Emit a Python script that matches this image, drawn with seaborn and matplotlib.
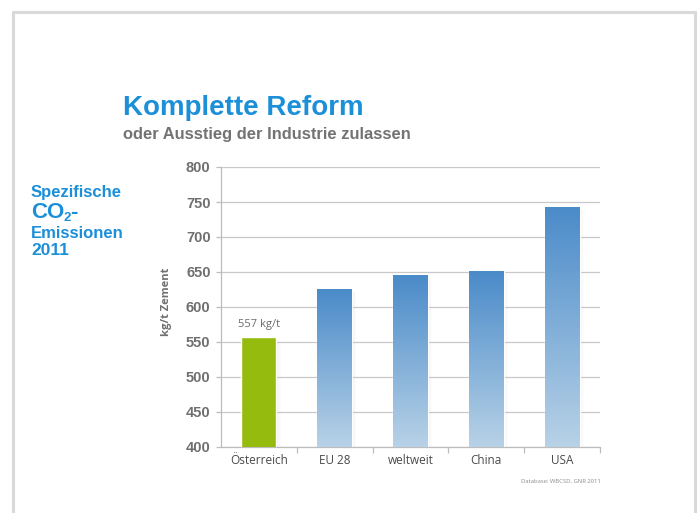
import matplotlib
matplotlib.use("Agg")
import matplotlib.pyplot as plt
import matplotlib.patches as mpatches
from matplotlib.colors import LinearSegmentedColormap
import numpy as np
import pandas as pd
import seaborn as sns

categories = ["Österreich", "EU 28", "weltweit", "China", "USA"]
values = [557, 625, 645, 651, 743]
yticks = [400, 450, 500, 550, 600, 650, 700, 750, 800]
bar_label = "557 kg/t"
title = "Komplette Reform"
subtitle = "oder Ausstieg der Industrie zulassen"
ylabel = "kg/t Zement"
source = "Database: WBCSD, GNR 2011"

sns.set_theme(style="white")
plt.rcParams['font.family'] = ['Liberation Sans', 'DejaVu Sans']

fig = plt.figure(figsize=(7.0, 5.13), dpi=100)
fig.patch.set_facecolor("white")

# slide frame
frame_color = "#d9d9d9"
fig.add_artist(plt.Line2D([12.5/700, 12.5/700], [0, 1 - 11.5/513], color=frame_color, lw=2.2, transform=fig.transFigure))
fig.add_artist(plt.Line2D([694.5/700, 694.5/700], [0, 1 - 11.5/513], color=frame_color, lw=2.2, transform=fig.transFigure))
fig.add_artist(plt.Line2D([12.5/700, 694.5/700], [1 - 11.5/513, 1 - 11.5/513], color=frame_color, lw=2.2, transform=fig.transFigure))

ax = fig.add_axes([221/700, 1 - 447/513, 379/700, 280/513])
df = pd.DataFrame({"land": categories, "wert": values})
green = "#96bb0f"
sns.barplot(data=df, x="land", y="wert", ax=ax, width=0.46,
            color="#5b97cf", saturation=1, zorder=3)

ax.set_yticks(yticks)
ax.yaxis.grid(True, color="#c9c9c9", lw=0.9, zorder=0)
ax.set_axisbelow(True)

cmap = LinearSegmentedColormap.from_list("blu", ["#b8d2e7", "#4a8bc9"])
grad = np.linspace(0, 1, 256).reshape(-1, 1)
for i, p in enumerate(ax.patches):
    x0, w = p.get_x(), p.get_width()
    y0 = 400
    top = values[i]
    # soft shadow at right
    for k, a in enumerate([0.12, 0.08, 0.05, 0.03, 0.015]):
        sh = mpatches.Rectangle((x0 + w + k * 0.011, y0), 0.011, top - y0 - 4,
                                facecolor="#7a7a7a", edgecolor="none", alpha=a, zorder=2)
        ax.add_patch(sh)
    if i == 0:
        p.set_facecolor(green)
    else:
        p.set_facecolor("none")
        im = ax.imshow(grad, extent=[x0, x0 + w, y0, top], origin="lower",
                       cmap=cmap, aspect="auto", zorder=3)
        im.set_clip_path(p)
ax.set_xlim(-0.5, 4.5)
ax.set_ylim(400, 800)

ax.annotate(bar_label, (0, values[0]), xytext=(0, 5), textcoords="offset points",
            ha="center", va="bottom", fontsize=8, color="#6a6a6a",
            family=["Open Sans", "DejaVu Sans"])

for s in ["top", "right"]:
    ax.spines[s].set_visible(False)
ax.spines["left"].set_color("#bdbdbd")
ax.spines["bottom"].set_color("#bdbdbd")
ax.spines["left"].set_linewidth(0.9)
ax.spines["bottom"].set_linewidth(0.9)

ax.tick_params(axis="y", which="major", length=3.5, width=0.9, color="#bdbdbd",
               labelsize=10.5, labelcolor="#6f6f6f", pad=4, left=True)
for t in ax.get_yticklabels():
    t.set_fontweight("bold")
ax.set_xticks(range(len(categories)))
ax.set_xticklabels(categories, fontsize=8.5, color="#4a4a4a", family=["Open Sans", "DejaVu Sans"])
ax.tick_params(axis="x", which="major", length=0, pad=5)
ax.set_xticks([0.5, 1.5, 2.5, 3.5, 4.5], minor=True)
ax.tick_params(axis="x", which="minor", length=4, width=0.9, color="#bdbdbd", bottom=True)
ax.set_xlabel("")
ax.set_ylabel(ylabel, fontsize=8, color="#6f6f6f", fontweight="bold",
              family=["Open Sans", "DejaVu Sans"])
ax.yaxis.set_label_coords(-0.129, 0.52)

# titles
fig.text(123/700, 1 - 108/513, title, fontsize=20, fontweight="bold", color="#1b8fd8",
         va="center", ha="left")
fig.text(123/700, 1 - 134/513, subtitle, fontsize=11.9, fontweight="bold", color="#737373",
         va="center", ha="left")

blue = "#1b8fd8"
fig.text(31/700, 1 - 192/513, "Spezifische", fontsize=12, fontweight="bold", color=blue, va="center")
fig.text(31/700, 1 - 218/513, "CO", fontsize=16, fontweight="bold", color=blue, va="baseline")
fig.text(63.5/700, 1 - 221/513, "2", fontsize=9.5, fontweight="bold", color=blue, va="baseline")
fig.text(70.5/700, 1 - 218/513, "-", fontsize=16, fontweight="bold", color=blue, va="baseline")
fig.text(31/700, 1 - 233/513, "Emissionen", fontsize=12, fontweight="bold", color=blue, va="center")
fig.text(31/700, 1 - 251/513, "2011", fontsize=12.5, fontweight="bold", color=blue, va="center")

fig.text(601/700, 1 - 481/513, source, fontsize=4.2, color="#8a8a8a", ha="right", va="center",
         family=["Open Sans", "DejaVu Sans"])

fig.savefig("out.png", dpi=100, facecolor="white")
